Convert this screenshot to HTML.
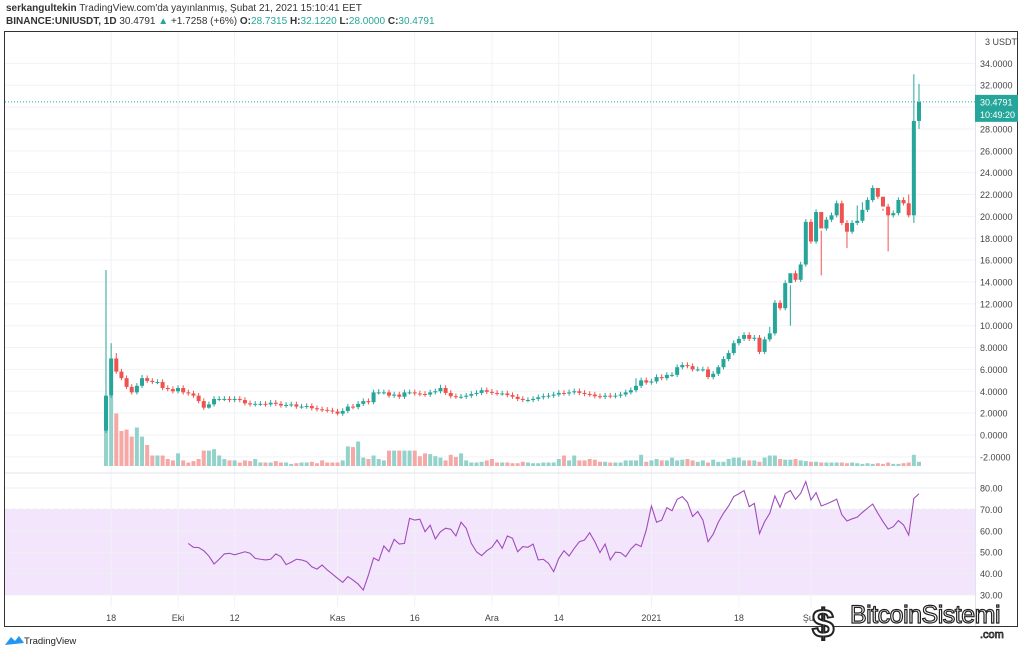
<!DOCTYPE html>
<html><head><meta charset="utf-8"><style>
body{margin:0;width:1024px;height:653px;background:#fff;overflow:hidden;font-family:"Liberation Sans",sans-serif;}
#hdr{position:absolute;left:6px;top:2px;font-size:10px;color:#333;line-height:13px;}
#hdr b{font-weight:bold}
.t{color:#26a69a}
svg{position:absolute;left:0;top:0}
</style></head><body>
<div id="hdr">
<div><b>serkangultekin</b> TradingView.com'da yayınlanmış, Şubat 21, 2021 15:10:41 EET</div>
<div><b>BINANCE:UNIUSDT, 1D</b> 30.4791 <span class="t">▲</span> +1.7258 (+6%) <b>O:</b><span class="t">28.7315</span> <b>H:</b><span class="t">32.1220</span> <b>L:</b><span class="t">28.0000</span> <b>C:</b><span class="t">30.4791</span></div>
</div>
<svg id="c" width="1024" height="653"></svg>
<script>
const closes=[3.6,7.0,5.8,5.2,4.4,3.9,4.5,5.2,4.95,4.85,4.85,4.3,4.2,4.0,4.3,3.9,3.8,3.6,3.1,2.5,2.8,3.3,3.3,3.3,3.2,3.3,3.2,2.9,2.8,2.85,2.85,2.8,2.95,2.85,2.7,2.75,2.8,2.6,2.6,2.65,2.45,2.35,2.3,2.25,2.15,1.95,2.2,2.6,2.55,2.85,3.1,3.0,3.9,3.9,3.9,3.6,
3.7,3.5,3.9,3.9,3.8,3.75,3.7,3.9,4.0,4.3,3.85,3.55,3.5,3.5,3.6,3.75,3.85,4.1,3.95,3.85,3.8,3.8,3.65,3.5,3.3,3.2,3.2,3.3,3.45,3.55,3.6,3.7,3.85,3.8,3.9,4.0,3.85,3.75,3.7,3.55,3.5,3.6,3.55,3.6,3.7,3.9,
4.1,4.5,5.0,4.8,4.9,5.3,5.2,5.5,5.5,6.2,6.4,6.3,6.0,6.0,6.0,5.3,5.6,6.2,6.95,7.5,8.4,8.8,9.15,8.8,8.9,7.6,8.75,9.3,12.1,11.6,13.9,14.8,14.2,15.6,19.5,17.7,20.4,18.9,19.7,20.1,21.2,19.4,18.6,19.4,19.6,20.6,21.5,22.6,21.8,20.9,20.1,20.3,21.5,21.2,20.1,28.73,30.48];
const firstOpen=0.4;
const highOverrides={0:15.1,1:8.4,2:7.5,7:5.5,53:4.2,65:4.6,103:5.2,119:6.4,129:9.9,133:10.0,139:14.6,146:21.0,147:21.3,150:22.2,151:20.5,156:22.0,157:33.0,158:32.12};
const lowOverrides={0:0.2,1:3.4,20:2.4,45:1.8,144:17.1,152:16.8,157:19.4,158:28.0};
const vols=[100,100,75,50,52,42,55,42,30,15,15,15,10,8,18,8,5,7,10,22,22,24,15,10,8,8,5,8,7,10,5,5,5,7,5,5,3,4,5,5,6,4,8,5,5,5,8,28,27,35,12,10,15,10,8,22,22,22,22,22,22,14,18,17,14,12,8,16,13,18,8,5,5,6,8,10,5,5,5,4,4,6,5,4,4,5,5,5,10,15,8,15,8,8,10,9,6,6,5,5,5,8,8,8,16,6,8,10,8,8,12,8,9,10,8,6,8,5,9,6,6,10,12,12,8,8,8,6,12,15,15,10,9,9,10,8,7,6,6,5,5,5,5,5,4,5,4,3,4,3,4,3,5,3,3,4,5,16,6];
const rsi=[54.1,52.3,52.2,50.7,48.2,44.5,46.7,49.2,49.5,48.8,49.5,50.2,49.5,47.1,46.7,46.4,46.7,49.2,47.9,44.2,45.3,46.7,46.4,45.6,43.2,42.1,44,41.7,39.8,37.8,35.9,38.6,37,35.1,32.3,39.3,47.3,46,52.9,50.2,56,53.8,54.1,65.8,65,65.4,59.6,62.6,56.2,59.6,61.2,60.7,57.6,64,61.2,54.1,50.2,48.4,50.7,52.3,55.7,51.8,57.6,56.5,50.2,52.6,52.3,53.8,46.4,46.7,44.8,
40.9,47.1,50.7,48.2,51.8,54.9,55.7,59.1,54.9,49.8,53.8,46.4,50,49.8,47.9,51.5,53.8,52.6,60.4,71.6,64,65,70.8,69.4,74.7,76,73.3,66.7,69,65,54.9,58.4,64,68.2,71.6,76,77.3,78.8,71.3,72.8,58.7,64.3,68.2,76.3,71,77.3,78.8,74.7,77.5,83,74.4,77.8,71.6,72.5,73.6,74.8,67.5,64.6,65.6,66.4,68.6,70.6,72.5,68.2,64.3,60.8,61.9,64.8,62.7,58,75.1,77.3];
const priceTicks=[34,32,28,26,24,22,20,18,16,14,12,10,8,6,4,2,0,-2];
const rsiTicks=[80,70,60,50,40,30];
const timeLabels=["18","Eki","12","Kas","16","Ara","14","2021","18","Şub"];
const timeLabelIdx=[1,14,25,45,60,75,88,106,123,137];

const NS="http://www.w3.org/2000/svg",svg=document.getElementById('c');
function mk(t,a,p){const e=document.createElementNS(NS,t);for(const k in a)e.setAttribute(k,a[k]);(p||svg).appendChild(e);return e;}
const N=closes.length;
const xS=i=>106+i*(919-106)/(N-1);
const yP=v=>435-v*10.93;
const yR=v=>595-(v-30)*2.14;
const GREEN='#26a69a',RED='#ef5350';
const frame=mk('rect',{x:4.5,y:31.5,width:1013,height:595,fill:'none',stroke:'#333','stroke-width':1});

const band=mk('rect',{x:5,y:yR(70),width:970,height:yR(30)-yR(70),fill:'#f3e5fc'});

[70,30].forEach(v=>{const l=mk('line',{x1:5,x2:975,y1:yR(v),y2:yR(v),stroke:'#c8b0d8','stroke-dasharray':'4,3'});
});
priceTicks.concat([30]).forEach(v=>{const l=mk('line',{x1:5,x2:975,y1:yP(v),y2:yP(v),stroke:'#f0f2f6'});
});
rsiTicks.forEach(v=>{const l=mk('line',{x1:5,x2:975,y1:yR(v),y2:yR(v),stroke:'#eef0f4'});
});
timeLabelIdx.forEach((ix,k)=>{const x=xS(ix);
const l=mk('line',{x1:x,x2:x,y1:32,y2:607,stroke:'#f0f2f6'});
const t=mk('text',{x:x,y:621,'font-size':9,fill:'#444','text-anchor':'middle'});t.textContent=timeLabels[k];
});
mk('line',{x1:5,x2:975,y1:473,y2:473,stroke:'#e0e3eb'});
const ax=mk('line',{x1:975.5,x2:975.5,y1:32,y2:626,stroke:'#e0e3eb'});

priceTicks.forEach(v=>{const t=mk('text',{x:980,y:yP(v)+3.5,'font-size':9,fill:'#444'});t.textContent=v.toFixed(4);
});
rsiTicks.forEach(v=>{const t=mk('text',{x:980,y:yR(v)+3.5,'font-size':9,fill:'#444'});t.textContent=v.toFixed(2);
});
const ut=mk('text',{x:985,y:45,'font-size':9,fill:'#444'});ut.textContent='3 USDT';

for(let i=0;i<N;i++){const o=i?closes[i-1]:firstOpen,c=closes[i],v=vols[i]||3,h=v*0.7;
const r=mk('rect',{x:xS(i)-2,y:466-h,width:4,height:h,fill:c>=o?'#93d2cb':'#f5a8a6'});
}
for(let i=0;i<N;i++){const o=i?closes[i-1]:firstOpen,c=closes[i],col=c>=o?GREEN:RED;
const hi=highOverrides[i]!==undefined?highOverrides[i]:Math.max(o,c)+0.25,lo=lowOverrides[i]!==undefined?lowOverrides[i]:Math.min(o,c)-0.2;
const g=mk('g',{});
mk('line',{x1:xS(i),x2:xS(i),y1:yP(hi),y2:yP(lo),stroke:col,'stroke-width':1},g);
const top=yP(Math.max(o,c)),ht=Math.max(1,Math.abs(yP(o)-yP(c)));
mk('rect',{x:xS(i)-2,y:top,width:4,height:ht,fill:col},g);}
const last=closes[N-1];
const pl=mk('line',{x1:5,x2:975,y1:yP(last),y2:yP(last),stroke:GREEN,'stroke-dasharray':'1,2'});

const lb=mk('rect',{x:975,y:yP(last)-7,width:43,height:27,fill:GREEN});

const lt=mk('text',{x:980,y:yP(last)+3.5,'font-size':9,fill:'#fff'});lt.textContent='30.4791';

const ct=mk('text',{x:980,y:yP(last)+16,'font-size':9,fill:'#fff'});ct.textContent='10:49:20';

const s=N-rsi.length;
const rp=mk('polyline',{points:rsi.map((v,k)=>xS(s+k)+','+yR(v)).join(' '),fill:'none',stroke:'#a04cbc','stroke-width':1.1});

const tg=mk('g',{});
mk('path',{d:'M5 645 L11 637 L15 641 L19 636 L24 643 Z',fill:'#2196f3'},tg);
const tt=mk('text',{x:24,y:644,'font-size':9.5,fill:'#222'},tg);tt.textContent='TradingView';
const wg=mk('g',{});
const dl=mk('text',{x:812,y:637,'font-size':40,'font-weight':'bold',fill:'#fff',stroke:'#222','stroke-width':2},wg);dl.textContent='$';
const wt=mk('text',{x:850,y:623,'font-size':25,fill:'#fff',stroke:'#222','stroke-width':1.2,'letter-spacing':'-0.5'},wg);wt.textContent='BitcoinSistemi';
const wc=mk('text',{x:980,y:638,'font-size':11,fill:'#fff',stroke:'#222','stroke-width':0.8},wg);wc.textContent='.com';
</script>
</body></html>
